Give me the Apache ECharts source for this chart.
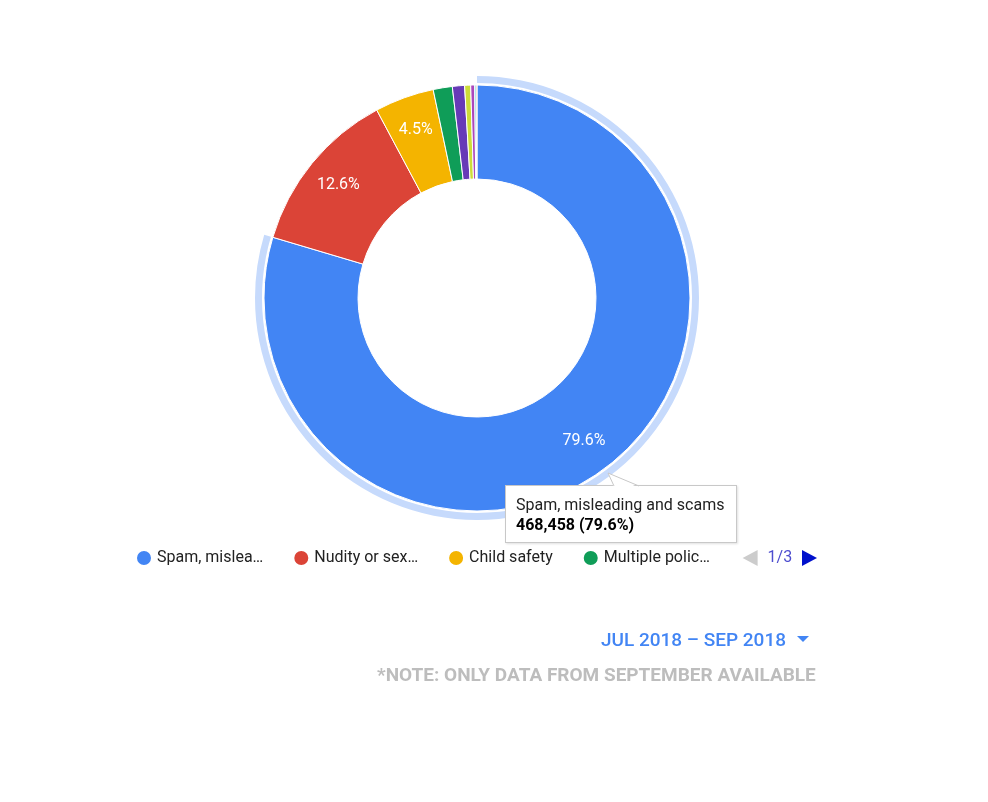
<!DOCTYPE html>
<html>
<head>
<meta charset="utf-8">
<script src="https://cdn.jsdelivr.net/npm/echarts@6/dist/echarts.min.js"></script>
<style>
  html, body { margin: 0; padding: 0; background: #fff; }
  #chart { width: 988px; height: 802px; }
</style>
</head>
<body>
<div id="chart"></div>
<script>
// removal reasons, Jul - Sep 2018
const reasons = [
  'Spam, misleading and scams',
  'Nudity or sexual',
  'Child safety',
  'Multiple policy violations',
  'Violent or graphic',
  'Harassment and cyberbullying',
  'Promotion of violence and violent extremism',
  'Hateful or abusive',
  'Harmful or dangerous'
];
const removals = [468458, 74152, 26483, 8530, 5420, 2700, 1760, 610, 402];
const colors = ['#4285f4', '#db4437', '#f4b400', '#0f9d58', '#673ab7', '#cddc39',
  '#ab47bc', '#00acc1', '#ff7043'];

const periodLabel = 'JUL 2018 \u2013 SEP 2018';
const noteLabel = '*NOTE: ONLY DATA FROM SEPTEMBER AVAILABLE';

const FONT = 'Roboto, "Noto Sans", sans-serif';
const center = [477, 298];

const chart = echarts.init(document.getElementById('chart'), null, { renderer: 'canvas' });

const pieData = reasons.map((name, i) => ({ name, value: removals[i] }));

// callout pointer of the tooltip
const pointer =
  '<svg style="position:absolute;left:99px;top:-16px;overflow:visible" width="36" height="18">' +
  '<polygon points="9,18 3,3 34,18" fill="#fff"/>' +
  '<polyline points="9,16 3,3 34,16" fill="none" stroke="#c8c8c8" stroke-width="1"/>' +
  '</svg>';

chart.setOption({
  animation: false,
  textStyle: { fontFamily: FONT },
  title: [
    {
      text: periodLabel,
      right: 197,
      top: 627,
      textStyle: { fontFamily: FONT, fontSize: 19, fontWeight: 500, color: '#4285f4' }
    },
    {
      text: noteLabel,
      left: 372,
      top: 662,
      textStyle: { fontFamily: FONT, fontSize: 19, fontWeight: 'bold', color: '#bdbdbd' }
    }
  ],
  graphic: [
    {
      type: 'polygon',
      shape: { points: [[797, 636], [809, 636], [803, 642]] },
      style: { fill: '#4285f4' }
    }
  ],
  tooltip: {
    trigger: 'item',
    triggerOn: 'none',
    alwaysShowContent: true,
    transitionDuration: 0,
    position: [505, 485],
    backgroundColor: '#fff',
    borderColor: '#c8c8c8',
    borderWidth: 1,
    padding: [9, 10, 7, 10],
    extraCssText: 'border-radius:0;box-shadow:1px 1px 2px rgba(0,0,0,0.12);width:210px;',
    textStyle: { fontFamily: FONT, fontSize: 16, color: '#222' },
    formatter: p =>
      pointer +
      '<div style="line-height:20px">' + p.name + '</div>' +
      '<div style="line-height:20px;font-weight:bold;color:#000">' +
      p.value.toLocaleString('en-US') + ' (' + p.percent + '%)</div>'
  },
  legend: {
    type: 'scroll',
    orient: 'horizontal',
    left: 135,
    top: 549,
    width: 682,
    padding: 0,
    icon: 'circle',
    itemWidth: 16,
    itemHeight: 16,
    itemGap: 29,
    data: reasons,
    textStyle: {
      fontFamily: FONT,
      fontSize: 16,
      color: '#222',
      width: 114,
      overflow: 'truncate',
      ellipsis: '\u2026'
    },
    pageIcons: {
      horizontal: ['path://M0,8L15,0L15,16z', 'path://M15,8L0,0L0,16z']
    },
    pageIconSize: [15, 16],
    pageIconColor: '#0011cc',
    pageIconInactiveColor: '#cccccc',
    pageButtonItemGap: 3,
    pageTextStyle: { fontFamily: FONT, fontSize: 16, color: '#4d4dcf' },
    pageFormatter: '{current}/{total}'
  },
  series: [
    {
      type: 'pie',
      center: center,
      radius: [119, 213],
      startAngle: 90,
      clockwise: true,
      percentPrecision: 1,
      avoidLabelOverlap: false,
      color: colors,
      itemStyle: { borderColor: '#fff', borderWidth: 1 },
      label: { show: false },
      labelLine: { show: false },
      emphasis: { disabled: true },
      data: pieData
    },
    {
      // halo around the selected slice
      type: 'pie',
      center: center,
      radius: [215, 222],
      startAngle: 90,
      silent: true,
      tooltip: { show: false },
      label: { show: false },
      labelLine: { show: false },
      emphasis: { disabled: true },
      data: pieData.map((d, i) => ({
        name: d.name,
        value: d.value,
        itemStyle: { color: i === 0 ? '#c6dafc' : 'rgba(0,0,0,0)' }
      }))
    },
    {
      // slice labels
      type: 'pie',
      center: center,
      radius: [119, 233],
      startAngle: 90,
      silent: true,
      percentPrecision: 1,
      tooltip: { show: false },
      itemStyle: { color: 'rgba(0,0,0,0)' },
      label: {
        show: true,
        position: 'inside',
        fontFamily: FONT,
        fontSize: 16,
        color: '#fff',
        formatter: p => (p.percent >= 2 ? p.percent + '%' : '')
      },
      labelLine: { show: false },
      emphasis: { disabled: true },
      data: pieData
    }
  ]
});

chart.dispatchAction({ type: 'showTip', seriesIndex: 0, dataIndex: 0 });
</script>
</body>
</html>
